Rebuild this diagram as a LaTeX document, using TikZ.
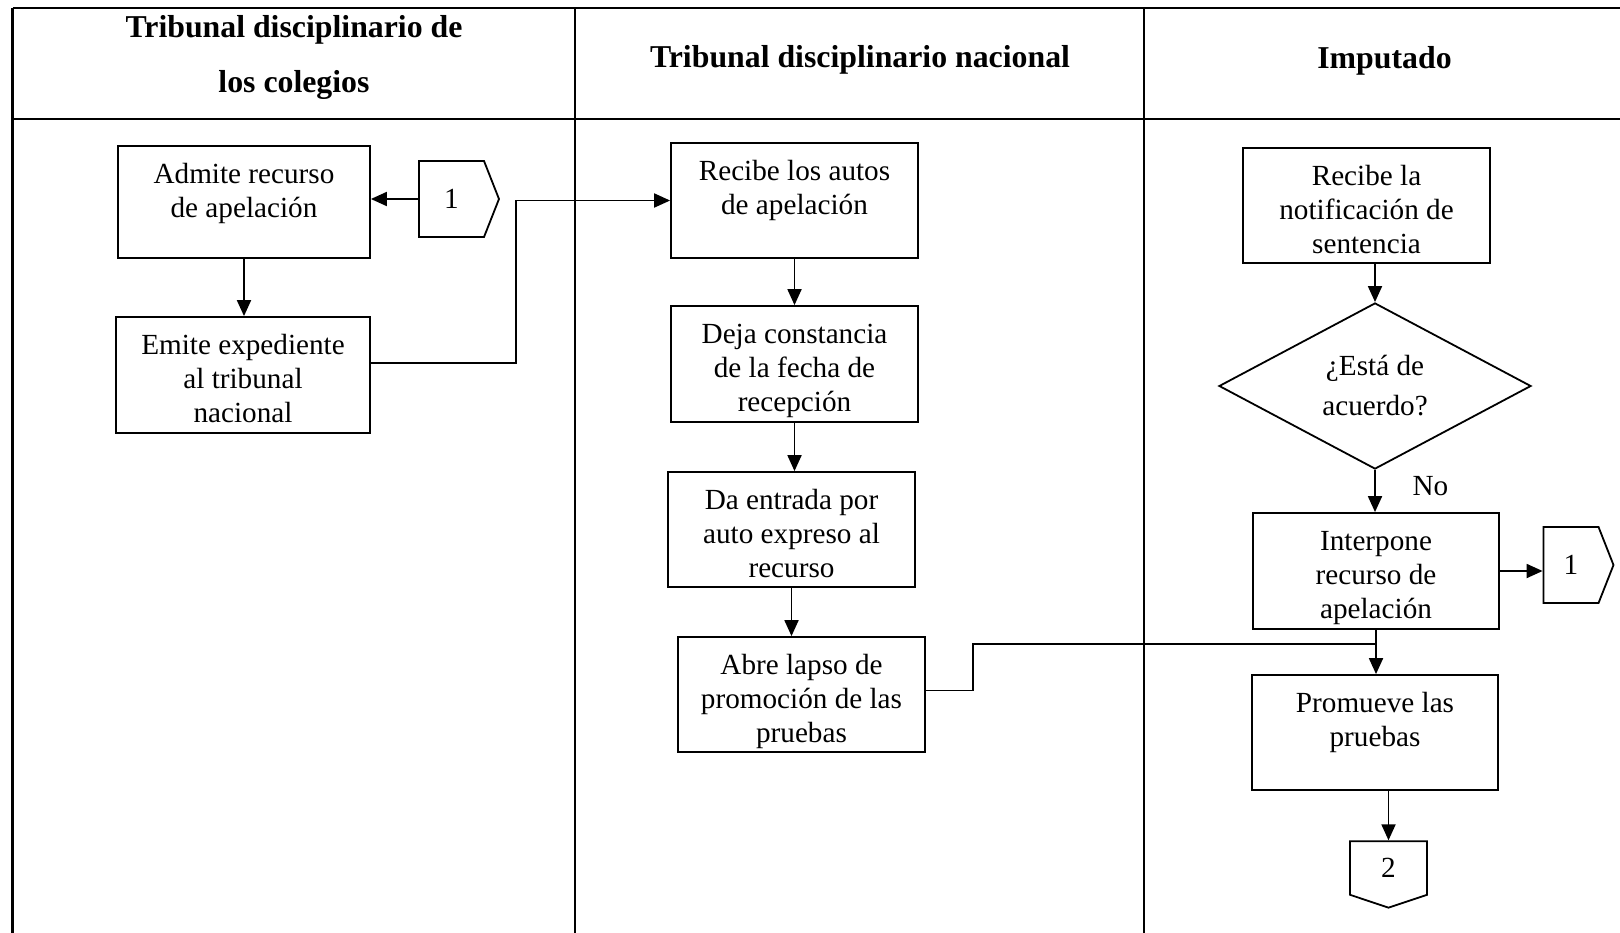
\documentclass[tikz,border=0pt]{standalone}
\usepackage{fontspec}
\setmainfont{Liberation Serif}
\usetikzlibrary{arrows.meta,shapes.geometric,shapes.symbols}
\newcommand{\textocaja}[2][44pt]{\parbox[c][#1][t]{118pt}{\centering\strut #2}}

\tikzset{
	tabla/.style={line width=1.4pt},
	caja/.style={draw, line width=0.9pt, rectangle, inner sep=0pt, minimum width=123.5pt, minimum height=57.5pt, font=\fontsize{14.6pt}{17pt}\selectfont},
	decision/.style={draw, line width=0.9pt, diamond, inner sep=0pt, minimum width=156pt, minimum height=62.5pt, align=center, font=\fontsize{14.6pt}{20pt}\selectfont},
	conector/.style={draw, line width=0.9pt, signal, inner sep=0pt, font=\fontsize{14.6pt}{17pt}\selectfont},
	cabecera/.style={align=center, font=\fontsize{15.9pt}{27.5pt}\selectfont\bfseries},
	flecha/.style={line width=0.95pt, -{Triangle[length=8pt, width=7pt]}},
	linea/.style={line width=0.75pt}
}

\begin{document}
\begin{tikzpicture}[x=0.5pt, y=-0.5pt]
			%%%%% START %%%%%
			\useasboundingbox (0, 0) rectangle (1620, 932);
			
			\draw[tabla] (12.6, 8) -- (1625, 8);
			\draw[tabla] (12.6, 119) -- (1625, 119);
			\draw[tabla] (12.6, 8) -- (12.6, 940);
			\draw[tabla] (575, 8) -- (575, 940);
			\draw[tabla] (1144, 8) -- (1144, 940);
			
			\node[cabecera] (colegios) at (294, 57) {Tribunal disciplinario de\\los colegios};
			\node[cabecera] (nacional) at (860, 59.5) {Tribunal disciplinario nacional};
			\node[cabecera] (imputado) at (1384.5, 60.5) {Imputado};
			
			% tribunal de los colegios
			\node[caja, minimum width=126pt, minimum height=56pt] (admite) at (244, 202) {\textocaja[42.5pt]{Admite recurso\\de apelación}};
			\node[caja, minimum width=127pt, minimum height=58pt] (emite) at (243, 375) {\textocaja[44.5pt]{Emite expediente\\al tribunal\\nacional}};
			\node[conector, signal pointer angle=137, minimum width=40pt, minimum height=38pt] (uno) at (451.5, 199) {1};
			
			% tribunal nacional
			\node[caja] (autos) at (794.5, 200.5) {\textocaja{Recibe los autos\\de apelación}};
			\node[caja, minimum height=58pt] (constancia) at (794.5, 364) {\textocaja[44.5pt]{Deja constancia\\de la fecha de\\recepción}};
			\node[caja] (entrada) at (791.5, 529.5) {\textocaja{Da entrada por\\auto expreso al\\recurso}};
			\node[caja] (lapso) at (801.5, 694.5) {\textocaja{Abre lapso de\\promoción de las\\pruebas}};
			
			% imputado
			\node[caja] (notificacion) at (1366.5, 205.5) {\textocaja{Recibe la\\notificación de\\sentencia}};
			\node[decision] (acuerdo) at (1375, 386) {¿Está de\\acuerdo?};
			\node[caja, minimum width=123pt, minimum height=58pt] (interpone) at (1376, 571) {\textocaja[44.5pt]{Interpone\\recurso de\\apelación}};
			\node[caja, minimum width=123pt] (promueve) at (1375, 732.5) {\textocaja{Promueve las\\pruebas}};
			\node[conector, signal pointer angle=137, minimum width=35pt, minimum height=38pt] (unob) at (1571, 565) {1};
			\node[conector, signal to=south, signal pointer angle=143, minimum width=38.5pt, minimum height=28pt] (dos) at (1388.5, 868) {2};
			
			\coordinate (union) at ([yshift=-7pt]interpone.south);
			
			% flechas
			\draw[flecha] (uno.west) -- (uno.west -| admite.east);
			\draw[flecha] (admite.south) -- (admite.south |- emite.north);
			\draw[flecha] ([yshift=6pt]emite.east) -- ++(145, 0) |- (autos.west);
			\draw[flecha] (autos.south) -- (autos.south |- constancia.north);
			\draw[flecha] (constancia.south) -- (constancia.south |- entrada.north);
			\draw[flecha] (entrada.south) -- (entrada.south |- lapso.north);
			\draw[linea] ([yshift=2pt]lapso.east) -- ++(47, 0) |- (union);
			
			\draw[flecha] (acuerdo.north |- notificacion.south) -- (acuerdo.north);
			\draw[flecha] (acuerdo.south) -- node[pos=0.38, right=15pt] (no) {\fontsize{14.6pt}{17pt}\selectfont No} (acuerdo.south |- interpone.north);
			\draw[flecha] (interpone.east) -- (interpone.east -| unob.west);
			\draw[flecha] (interpone.south) -- (interpone.south |- promueve.north);
			\draw[flecha] (dos.north |- promueve.south) -- (dos.north);
			
			%%%%% END %%%%%
\end{tikzpicture}
\end{document}
